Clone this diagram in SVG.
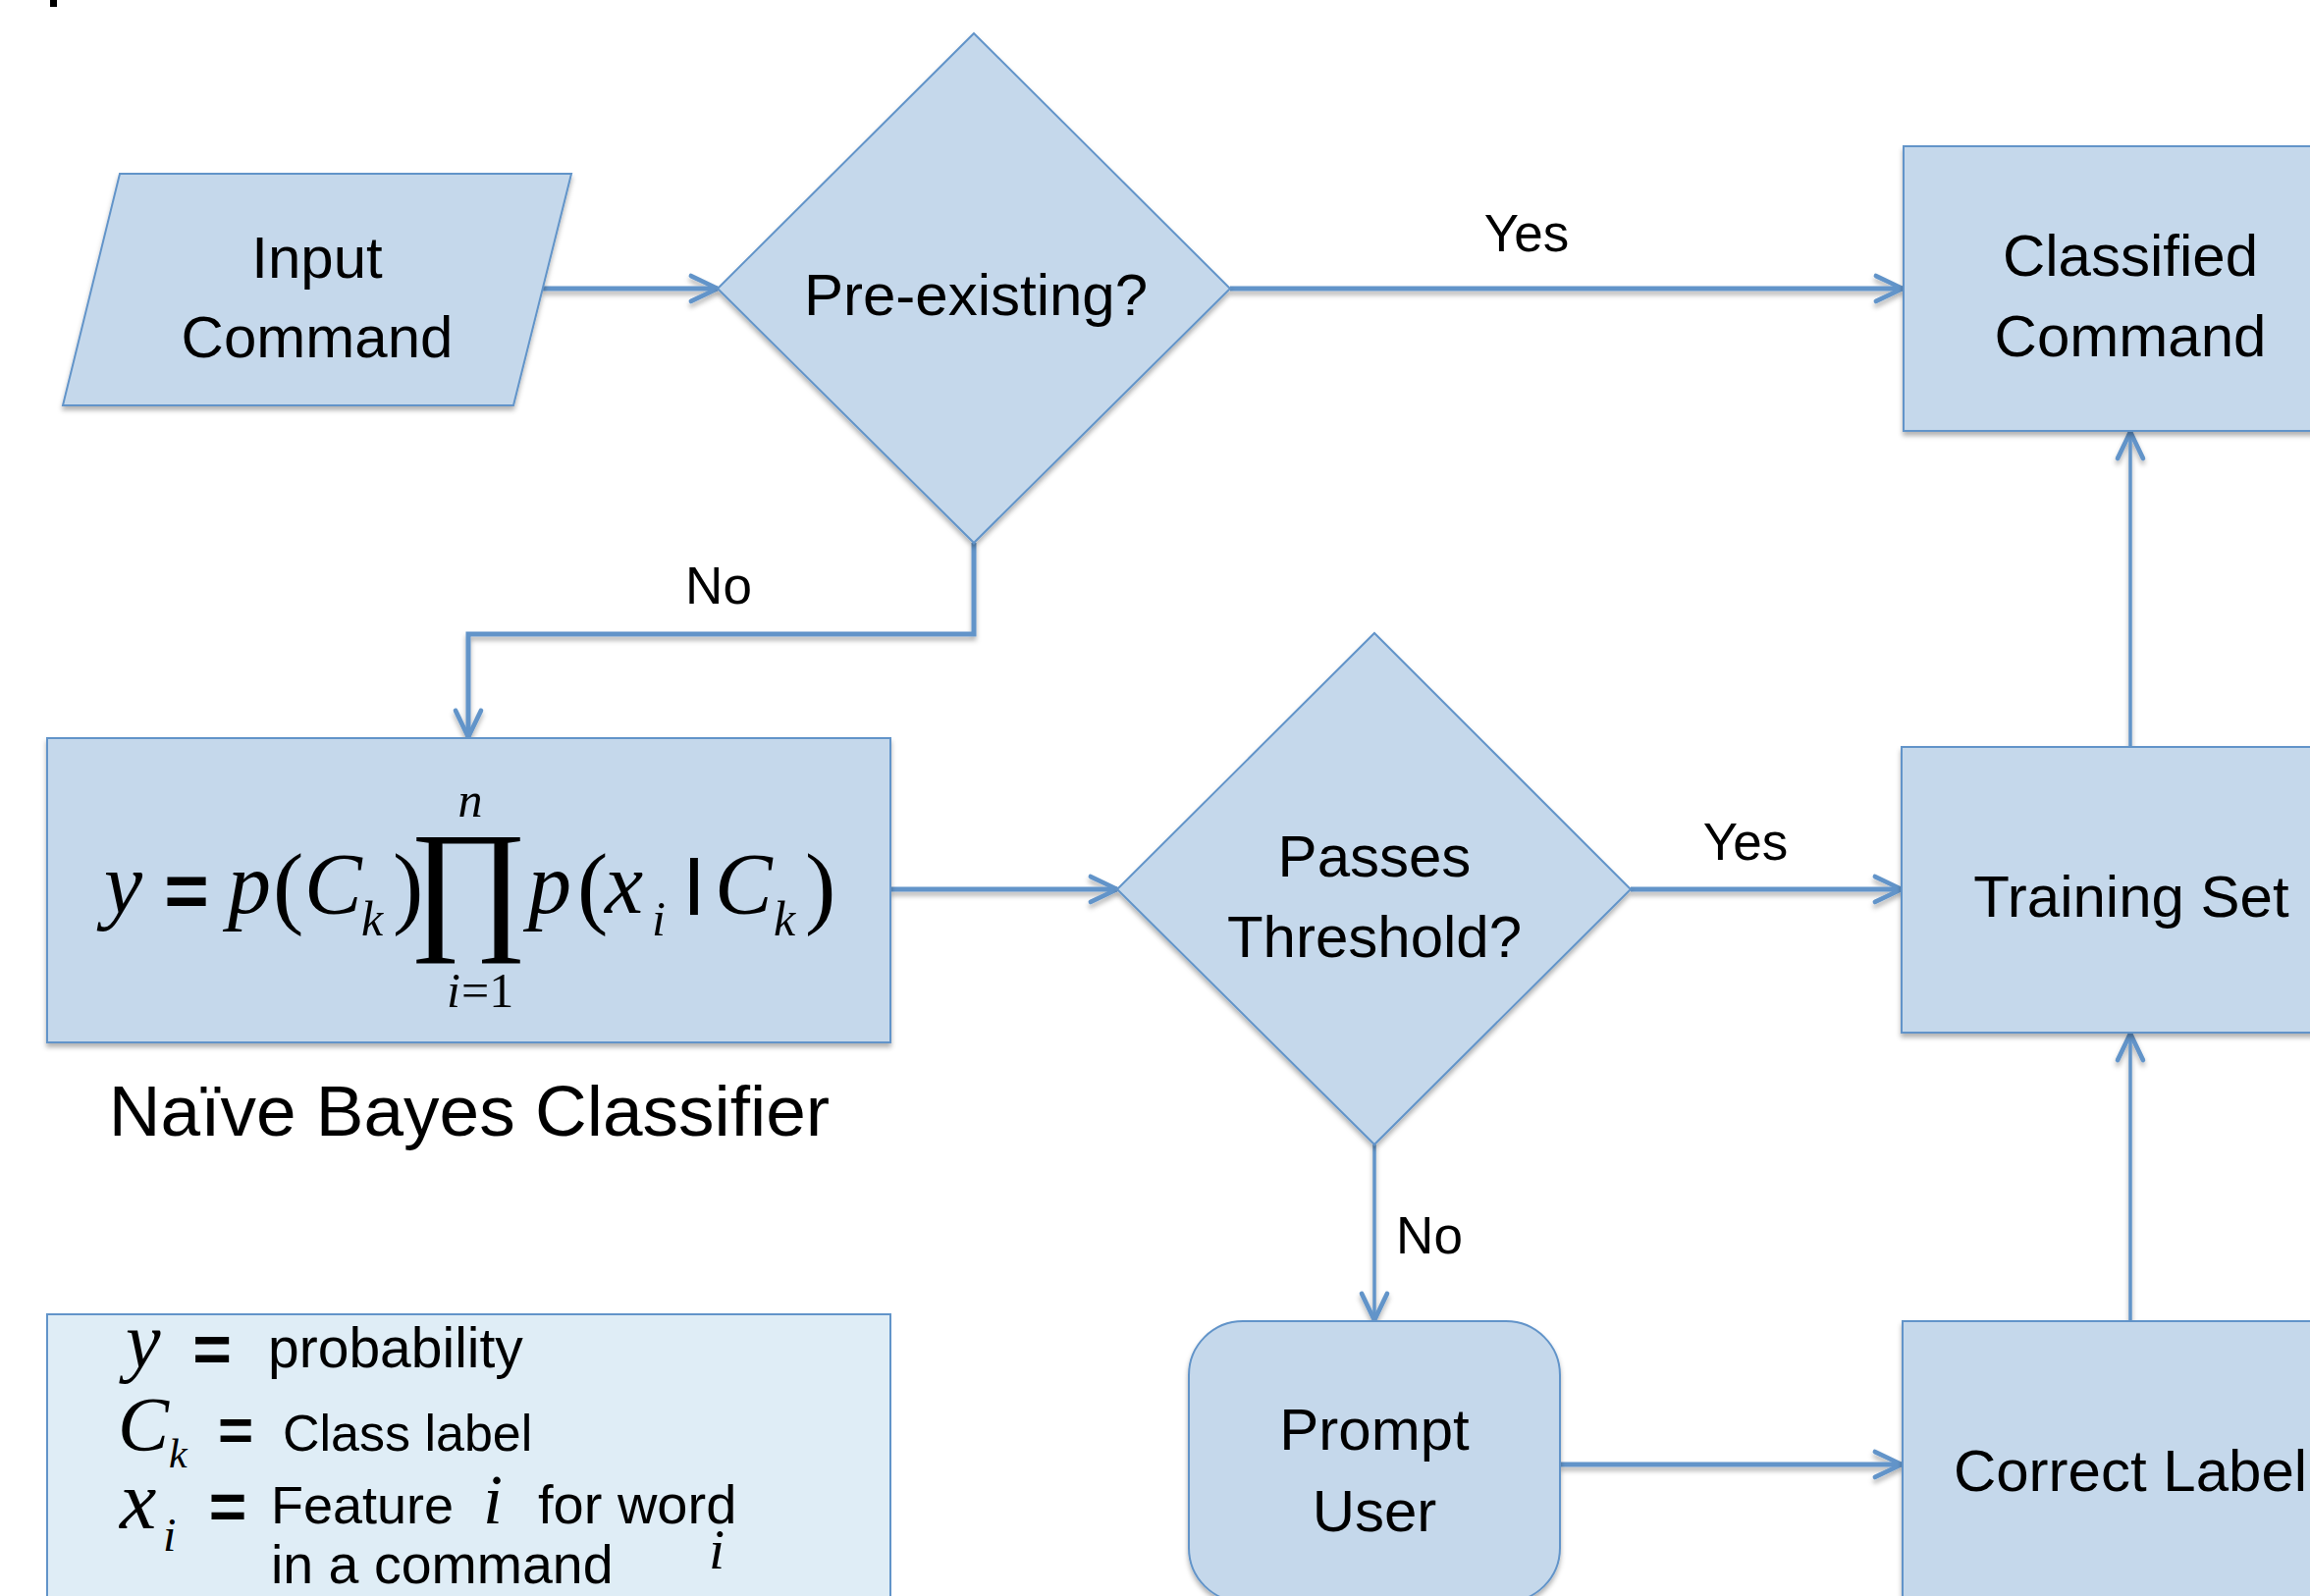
<svg xmlns="http://www.w3.org/2000/svg" width="2353" height="1626" viewBox="0 0 2353 1626">
  <defs>
    <filter id="shadow" x="-5%" y="-5%" width="110%" height="115%">
      <feDropShadow dx="0" dy="4" stdDeviation="2.5" flood-color="#000" flood-opacity="0.3"/>
    </filter>
    <!-- straight connectors have a zero-size box, so their shadow uses a fixed region -->
    <filter id="line-shadow" filterUnits="userSpaceOnUse" x="0" y="0" width="2353" height="1626">
      <feDropShadow dx="0" dy="4" stdDeviation="2.5" flood-color="#000" flood-opacity="0.3"/>
    </filter>
    <marker id="arrow" markerUnits="userSpaceOnUse" markerWidth="40" markerHeight="40" viewBox="-30 -15 34 30" refX="0" refY="0" orient="auto">
      <path d="M -23 -11 L 0 0 L -23 11" fill="none" stroke="#6294C9" stroke-width="4" stroke-linecap="round" stroke-linejoin="round"/>
    </marker>
    <style>
      .shape { fill: #C5D8EB; stroke: #6294C9; stroke-width: 2; filter: url(#shadow); }
      .legend { fill: #DFEDF6; stroke: #6294C9; stroke-width: 2; }
      .label { font-family: "Liberation Sans", Arial, sans-serif; font-size: 60px; fill: #000; text-anchor: middle; }
      .edge-label { font-family: "Liberation Sans", Arial, sans-serif; font-size: 53px; fill: #000; text-anchor: middle; }
      .conn { fill: none; stroke: #6294C9; marker-end: url(#arrow); filter: url(#line-shadow); }
      .h { stroke-width: 5; }
      .v { stroke-width: 3.5; }
      .math { font-family: "Liberation Serif", "Times New Roman", serif; font-style: italic; fill: #000; }
      .up { font-family: "Liberation Serif", "Times New Roman", serif; fill: #000; }
      .eq { font-family: "Liberation Sans", Arial, sans-serif; font-weight: bold; fill: #000; text-anchor: middle; }
      .txt { font-family: "Liberation Sans", Arial, sans-serif; font-size: 55px; fill: #000; }
    </style>
  </defs>

  <rect width="2353" height="1626" fill="#FFFFFF"/>

  <!-- clipped stroke at the top edge -->
  <rect x="51" y="0" width="7" height="7" fill="#000"/>

  <!-- connectors -->
  <g id="connectors">
    <path class="conn h" d="M 553 294 H 731"/>
    <path class="conn h" d="M 1253 294 H 1938"/>
    <path class="conn h" d="M 992 553 V 646 H 477 V 751"/>
    <path class="conn h" d="M 907 906 H 1138"/>
    <path class="conn h" d="M 1661 906 H 1937"/>
    <path class="conn v" d="M 1400 1166 V 1345"/>
    <path class="conn h" d="M 1589 1492 H 1937"/>
    <path class="conn v" d="M 2170 1346 V 1053"/>
    <path class="conn v" d="M 2170 761 V 440"/>
    <text class="edge-label" x="1555" y="256">Yes</text>
    <text class="edge-label" x="732" y="615">No</text>
    <text class="edge-label" x="1778" y="876">Yes</text>
    <text class="edge-label" x="1456" y="1277">No</text>
  </g>

  <!-- input -->
  <g id="input-command">
    <polygon class="shape" points="122,177 582,177 523,413 64,413"/>
    <text class="label" x="323" y="283">Input</text>
    <text class="label" x="323" y="364">Command</text>
  </g>

  <!-- first decision -->
  <g id="pre-existing">
    <polygon class="shape" points="992,34 1253,294 992,553 731,294"/>
    <text class="label" x="994" y="321">Pre-existing?</text>
  </g>

  <!-- output -->
  <g id="classified-command">
    <rect class="shape" x="1939" y="149" width="462" height="290"/>
    <text class="label" x="2170" y="281">Classified</text>
    <text class="label" x="2170" y="363">Command</text>
  </g>

  <!-- classifier with its formula -->
  <g id="naive-bayes">
    <rect class="shape" x="48" y="752" width="859" height="310"/>
    <text class="math" x="106" y="930" font-size="88">y</text>
    <text class="eq" x="190" y="934" font-size="78">=</text>
    <text class="math" x="232" y="930" font-size="88">p</text>
    <text class="up" x="278" y="934" font-size="94">(</text>
    <text class="math" x="310" y="930" font-size="88">C</text>
    <text class="math" x="368" y="953" font-size="50">k</text>
    <text class="up" x="400" y="934" font-size="94">)</text>
    <text class="up" x="477" y="950" font-size="148" text-anchor="middle">∏</text>
    <text class="math" x="479" y="832" font-size="50" text-anchor="middle">n</text>
    <text class="math" x="455" y="1026" font-size="50">i</text>
    <text class="up" x="470" y="1026" font-size="50">=1</text>
    <text class="math" x="538" y="930" font-size="88">p</text>
    <text class="up" x="588" y="934" font-size="94">(</text>
    <text class="math" x="616" y="930" font-size="88">x</text>
    <text class="math" x="664" y="953" font-size="50">i</text>
    <text class="eq" x="707" y="918" font-size="62">|</text>
    <text class="math" x="728" y="930" font-size="88">C</text>
    <text class="math" x="788" y="953" font-size="50">k</text>
    <text class="up" x="820" y="934" font-size="94">)</text>
    <text class="label" x="478" y="1157" style="font-size:73px">Naïve Bayes Classifier</text>
  </g>

  <!-- second decision -->
  <g id="passes-threshold">
    <polygon class="shape" points="1400,645 1661,906 1400,1166 1138,906"/>
    <text class="label" x="1400" y="893">Passes</text>
    <text class="label" x="1400" y="975">Threshold?</text>
  </g>

  <g id="training-set">
    <rect class="shape" x="1937" y="761" width="466" height="291"/>
    <text class="label" x="2171" y="934">Training Set</text>
  </g>

  <g id="prompt-user">
    <rect class="shape" x="1211" y="1346" width="378" height="286" rx="55" ry="55"/>
    <text class="label" x="1400" y="1477">Prompt</text>
    <text class="label" x="1400" y="1560">User</text>
  </g>

  <g id="correct-label">
    <rect class="shape" x="1938" y="1346" width="466" height="300"/>
    <text class="label" x="2170" y="1519">Correct Label</text>
  </g>

  <!-- symbol legend -->
  <g id="legend">
    <rect class="legend" x="48" y="1339" width="859" height="310"/>
    <text class="math" x="128" y="1393" font-size="80">y</text>
    <text class="eq" x="216" y="1398" font-size="68">=</text>
    <text class="txt" x="273" y="1393" style="font-size:57px">probability</text>

    <text class="math" x="120" y="1477" font-size="78">C</text>
    <text class="math" x="172" y="1495" font-size="42">k</text>
    <text class="eq" x="240" y="1478" font-size="62">=</text>
    <text class="txt" x="288" y="1478" style="font-size:52px">Class label</text>

    <text class="math" x="122" y="1557" font-size="84">x</text>
    <text class="math" x="166" y="1580" font-size="48">i</text>
    <text class="eq" x="232" y="1558" font-size="66">=</text>
    <text class="txt" x="276" y="1552" style="font-size:54px">Feature</text>
    <text class="math" x="492" y="1552" font-size="72">i</text>
    <text class="txt" x="548" y="1552" style="font-size:56px">for word</text>
    <text class="math" x="722" y="1598" font-size="58">i</text>
    <text class="txt" x="276" y="1613" style="font-size:55.5px">in a command</text>
  </g>
</svg>
